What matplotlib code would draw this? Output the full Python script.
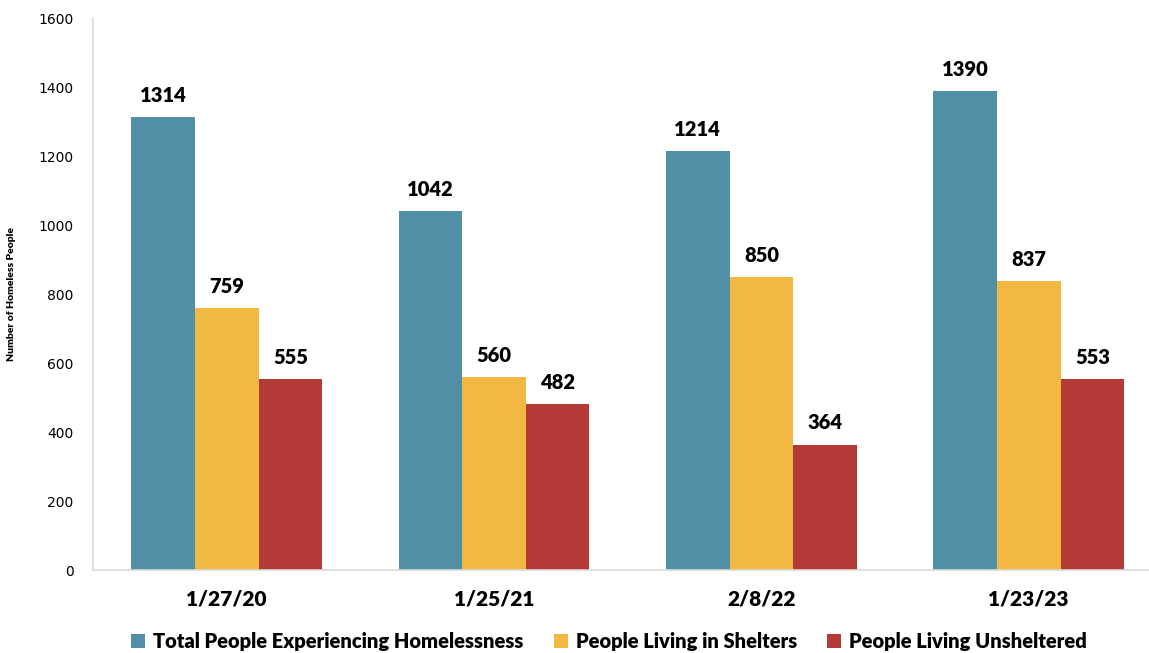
import numpy as np
import matplotlib.pyplot as plt

dates = ["1/27/20", "1/25/21", "2/8/22", "1/23/23"]
total = [1314, 1042, 1214, 1390]
shelters = [759, 560, 850, 837]
unsheltered = [555, 482, 364, 553]

series = [
    ("Total People Experiencing Homelessness", total, "#508FA6"),
    ("People Living in Shelters", shelters, "#F2B942"),
    ("People Living Unsheltered", unsheltered, "#B33A36"),
]

plt.rcParams['font.family'] = ['Lato', 'DejaVu Sans']

fig = plt.figure(figsize=(11.49, 6.53), dpi=100)
ax = fig.add_axes([0.081, 0.127, 0.919, 0.845])

x = np.arange(len(dates))
w = 0.238
for i, (name, vals, col) in enumerate(series):
    pos = x + (i - 1) * w
    bars = ax.bar(pos, vals, w, color=col, label=name)
    for b, v in zip(bars, vals):
        ax.text(b.get_x() + b.get_width() / 2, v + 35, str(v),
                ha="center", va="bottom", fontsize=14.5, fontweight="heavy")

ax.set_xlim(-0.5, 3.45)
ax.set_ylim(0, 1600)
ax.set_yticks(range(0, 1601, 200))
ax.set_xticks(x)
ax.set_xticklabels(dates, fontsize=15, fontweight="heavy")
ax.tick_params(axis="x", length=0, pad=14)
ax.tick_params(axis="y", length=0, pad=14, labelsize=10)
for lab in ax.get_yticklabels():
    lab.set_family("DejaVu Sans")

for s in ["top", "right"]:
    ax.spines[s].set_visible(False)
for s in ["left", "bottom"]:
    ax.spines[s].set_color("#D9D9D9")
    ax.spines[s].set_linewidth(1.2)

ax.set_ylabel("Number of Homeless People", fontsize=7.5, fontweight="heavy", labelpad=16)

leg = fig.legend(loc="lower center", bbox_to_anchor=(0.53, -0.025), ncol=3, frameon=False,
                 prop={"size": 14.5, "weight": "heavy"}, handlelength=0.7, handleheight=0.7,
                 handletextpad=0.4, columnspacing=1.5)

fig.savefig("out.png", dpi=100)
